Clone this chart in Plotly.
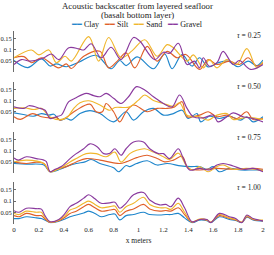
import plotly.graph_objects as go

# ---------------- data ----------------
series_names = ["Clay", "Silt", "Sand", "Gravel"]
colors = ["#1f86cc", "#e0602a", "#f0b62c", "#8a3a9e"]
tau_labels = ["0.25", "0.50", "0.75", "1.00"]

# tau = 0.25
clay_x_1 = [0, 0.11, 0.22, 0.29, 0.34, 0.42, 0.52, 0.66, 0.78, 0.85, 0.9, 0.99, 1.12, 1.21, 1.27, 1.35, 1.43, 1.49, 1.56, 1.64, 1.72, 1.8, 1.88, 1.95, 2.0]
clay_y_1 = [0.053, 0.021, 0.06, 0.028, 0.038, 0.025, 0.045, 0.076, 0.016, 0.053, 0.03, 0.069, 0.016, 0.082, 0.016, 0.079, 0.028, 0.065, 0.024, 0.043, 0.05, 0.025, 0.05, 0.03, 0.055]
silt_x_1 = [0, 0.08, 0.14, 0.22, 0.36, 0.42, 0.46, 0.56, 0.69, 0.76, 0.83, 0.9, 0.97, 1.07, 1.15, 1.23, 1.31, 1.38, 1.49, 1.56, 1.63, 1.73, 1.81, 1.88, 1.95, 2.0]
silt_y_1 = [0.065, 0.07, 0.043, 0.065, 0.02, 0.038, 0.017, 0.072, 0.094, 0.02, 0.05, 0.087, 0.02, 0.116, 0.05, 0.094, 0.065, 0.08, 0.013, 0.057, 0.035, 0.05, 0.035, 0.065, 0.028, 0.043]
sand_x_1 = [0, 0.14, 0.2, 0.28, 0.34, 0.41, 0.46, 0.6, 0.68, 0.76, 0.86, 0.95, 1.05, 1.15, 1.23, 1.28, 1.39, 1.44, 1.52, 1.57, 1.63, 1.71, 1.79, 1.87, 1.95, 2.0]
sand_y_1 = [0.065, 0.1, 0.078, 0.1, 0.043, 0.072, 0.05, 0.16, 0.05, 0.156, 0.065, 0.097, 0.146, 0.072, 0.124, 0.11, 0.05, 0.078, 0.02, 0.057, 0.02, 0.057, 0.035, 0.106, 0.02, 0.047]
gravel_x_1 = [0, 0.06, 0.13, 0.24, 0.3, 0.36, 0.44, 0.52, 0.56, 0.62, 0.7, 0.78, 0.86, 0.96, 1.01, 1.13, 1.2, 1.25, 1.32, 1.39, 1.45, 1.49, 1.52, 1.57, 1.63, 1.68, 1.76, 1.81, 1.9, 2.0]
gravel_y_1 = [0.035, 0.057, 0.05, 0.065, 0.082, 0.057, 0.11, 0.105, 0.1, 0.128, 0.065, 0.112, 0.057, 0.156, 0.14, 0.057, 0.09, 0.085, 0.13, 0.035, 0.05, 0.02, 0.065, 0.027, 0.043, 0.094, 0.035, 0.053, 0.013, 0.035]

# tau = 0.50
clay_x_2 = [0, 0.075, 0.155, 0.22, 0.28, 0.32, 0.37, 0.42, 0.46, 0.53, 0.61, 0.69, 0.8, 0.9, 0.96, 1.04, 1.12, 1.2, 1.28, 1.35, 1.4, 1.47, 1.5, 1.57, 1.65, 1.73, 1.82, 1.87, 1.92, 2.0]
clay_y_2 = [0.045, 0.038, 0.03, 0.042, 0.035, 0.039, 0.013, 0.02, 0.013, 0.042, 0.055, 0.042, 0.005, 0.05, 0.013, 0.05, 0.065, 0.035, 0.042, 0.057, 0.02, 0.042, 0.005, 0.03, 0.02, 0.03, 0.013, 0.028, 0.005, 0.028]
silt_x_2 = [0, 0.05, 0.15, 0.22, 0.29, 0.34, 0.37, 0.42, 0.5, 0.61, 0.66, 0.71, 0.74, 0.8, 0.85, 0.9, 0.96, 1.07, 1.15, 1.23, 1.29, 1.35, 1.39, 1.49, 1.56, 1.63, 1.71, 1.79, 1.87, 1.92, 2.0]
silt_y_2 = [0.028, 0.016, 0.042, 0.028, 0.023, 0.025, 0.013, 0.025, 0.057, 0.084, 0.05, 0.05, 0.087, 0.05, 0.005, 0.05, 0.08, 0.05, 0.065, 0.065, 0.072, 0.095, 0.028, 0.035, 0.05, 0.028, 0.035, 0.02, 0.05, 0.016, 0.02]
sand_x_2 = [0, 0.08, 0.16, 0.22, 0.29, 0.37, 0.43, 0.48, 0.53, 0.6, 0.69, 0.77, 0.81, 0.88, 0.93, 1.0, 1.05, 1.12, 1.2, 1.28, 1.33, 1.39, 1.49, 1.56, 1.63, 1.71, 1.76, 1.87, 2.0]
sand_y_2 = [0.065, 0.068, 0.06, 0.065, 0.027, 0.015, 0.027, 0.065, 0.09, 0.099, 0.08, 0.057, 0.069, 0.069, 0.072, 0.102, 0.125, 0.1, 0.087, 0.075, 0.09, 0.035, 0.028, 0.013, 0.035, 0.042, 0.016, 0.025, 0.016]
gravel_x_2 = [0, 0.08, 0.12, 0.21, 0.25, 0.29, 0.35, 0.38, 0.44, 0.49, 0.58, 0.64, 0.69, 0.74, 0.8, 0.86, 0.92, 0.985, 1.05, 1.12, 1.2, 1.27, 1.33, 1.39, 1.44, 1.52, 1.6, 1.64, 1.71, 1.76, 1.84, 1.92, 2.0]
gravel_y_2 = [0.072, 0.065, 0.077, 0.065, 0.057, 0.02, 0.03, 0.035, 0.095, 0.11, 0.132, 0.122, 0.117, 0.132, 0.11, 0.087, 0.117, 0.162, 0.147, 0.117, 0.087, 0.072, 0.125, 0.065, 0.028, 0.023, 0.035, 0.005, 0.028, 0.045, 0.028, 0.02, 0.005]

# tau = 0.75
clay_x_3 = [0, 0.1, 0.24, 0.29, 0.37, 0.42, 0.5, 0.57, 0.62, 0.69, 0.8, 0.84, 0.9, 0.93, 0.985, 1.07, 1.15, 1.23, 1.34, 1.42, 1.49, 1.55, 1.6, 1.65, 1.73, 1.82, 1.92, 2.0]
clay_y_3 = [0.044, 0.041, 0.037, 0.007, 0.018, 0.03, 0.044, 0.051, 0.062, 0.044, 0.025, 0.007, 0.035, 0.03, 0.044, 0.056, 0.037, 0.044, 0.033, 0.03, 0.03, 0.018, 0.03, 0.007, 0.022, 0.015, 0.015, 0.015]
silt_x_3 = [0, 0.1, 0.18, 0.24, 0.29, 0.34, 0.42, 0.5, 0.58, 0.69, 0.8, 0.85, 0.9, 0.985, 1.07, 1.15, 1.21, 1.28, 1.35, 1.4, 1.49, 1.63, 1.76, 1.92, 2.0]
silt_y_3 = [0.05, 0.044, 0.05, 0.044, 0.007, 0.018, 0.03, 0.051, 0.066, 0.059, 0.047, 0.044, 0.051, 0.07, 0.081, 0.066, 0.051, 0.059, 0.076, 0.022, 0.015, 0.022, 0.018, 0.022, 0.018]
sand_x_3 = [0, 0.1, 0.24, 0.29, 0.37, 0.45, 0.5, 0.58, 0.66, 0.74, 0.81, 0.86, 0.93, 0.985, 1.05, 1.12, 1.2, 1.25, 1.32, 1.39, 1.44, 1.49, 1.56, 1.63, 1.68, 1.76, 1.87, 2.0]
sand_y_3 = [0.05, 0.059, 0.044, 0.007, 0.022, 0.051, 0.066, 0.088, 0.088, 0.074, 0.095, 0.05, 0.088, 0.103, 0.11, 0.095, 0.074, 0.062, 0.09, 0.03, 0.015, 0.03, 0.007, 0.03, 0.037, 0.018, 0.022, 0.012]
gravel_x_3 = [0, 0.035, 0.1, 0.18, 0.24, 0.26, 0.29, 0.33, 0.38, 0.45, 0.5, 0.56, 0.61, 0.67, 0.72, 0.77, 0.81, 0.86, 0.9, 0.96, 1.04, 1.09, 1.16, 1.2, 1.25, 1.32, 1.36, 1.41, 1.49, 1.57, 1.63, 1.68, 1.76, 1.84, 1.92, 2.0]
gravel_y_3 = [0.069, 0.059, 0.074, 0.066, 0.059, 0.052, 0.007, 0.018, 0.03, 0.066, 0.088, 0.11, 0.132, 0.118, 0.088, 0.09, 0.11, 0.081, 0.11, 0.14, 0.14, 0.11, 0.088, 0.088, 0.066, 0.11, 0.066, 0.015, 0.022, 0.015, 0.037, 0.044, 0.033, 0.018, 0.022, 0.007]

# tau = 1.00 (shared sample positions)
x_4 = [0, 0.04, 0.1, 0.18, 0.22, 0.25, 0.29, 0.36, 0.41, 0.45, 0.5, 0.56, 0.6, 0.65, 0.7, 0.77, 0.81, 0.85, 0.9, 0.96, 1.04, 1.09, 1.17, 1.22, 1.26, 1.32, 1.37, 1.43, 1.49, 1.55, 1.58, 1.65, 1.73, 1.78, 1.83, 1.87, 1.92, 2.0]
clay_y_4 = [0.022, 0.022, 0.03, 0.025, 0.022, 0.015, 0.004, 0.01, 0.02, 0.03, 0.038, 0.047, 0.055, 0.045, 0.03, 0.04, 0.042, 0.016, 0.035, 0.04, 0.05, 0.04, 0.038, 0.04, 0.04, 0.045, 0.025, 0.004, 0.015, 0.012, 0.004, 0.03, 0.018, 0.014, 0.004, 0.028, 0.016, 0.01]
silt_y_4 = [0.035, 0.03, 0.045, 0.035, 0.035, 0.02, 0.005, 0.012, 0.028, 0.045, 0.055, 0.075, 0.085, 0.07, 0.055, 0.06, 0.062, 0.035, 0.055, 0.065, 0.085, 0.065, 0.055, 0.058, 0.055, 0.07, 0.04, 0.006, 0.018, 0.015, 0.005, 0.035, 0.022, 0.016, 0.005, 0.03, 0.018, 0.012]
sand_y_4 = [0.045, 0.04, 0.055, 0.05, 0.05, 0.025, 0.006, 0.015, 0.035, 0.06, 0.07, 0.09, 0.1, 0.085, 0.07, 0.075, 0.078, 0.05, 0.075, 0.09, 0.117, 0.085, 0.07, 0.07, 0.063, 0.09, 0.05, 0.007, 0.02, 0.016, 0.006, 0.04, 0.025, 0.018, 0.006, 0.035, 0.02, 0.015]
gravel_y_4 = [0.057, 0.05, 0.068, 0.066, 0.064, 0.034, 0.008, 0.018, 0.045, 0.075, 0.09, 0.113, 0.128, 0.11, 0.09, 0.092, 0.095, 0.068, 0.09, 0.128, 0.138, 0.105, 0.083, 0.085, 0.075, 0.113, 0.07, 0.008, 0.018, 0.018, 0.004, 0.045, 0.03, 0.022, 0.004, 0.038, 0.022, 0.012]

y_tick_vals = [0.05, 0.1, 0.15]
y_tick_text = ["0.05", "0.1", "0.15"]
x_tick_vals = [0, 0.2, 0.4, 0.6, 0.8, 1, 1.2, 1.4, 1.6, 1.8, 2]
x_tick_text = ["0", "0.2", "0.4", "0.6", "0.8", "1", "1.2", "1.4", "1.6", "1.8", "2"]

panels = [
    [(clay_x_1, clay_y_1), (silt_x_1, silt_y_1), (sand_x_1, sand_y_1), (gravel_x_1, gravel_y_1)],
    [(clay_x_2, clay_y_2), (silt_x_2, silt_y_2), (sand_x_2, sand_y_2), (gravel_x_2, gravel_y_2)],
    [(clay_x_3, clay_y_3), (silt_x_3, silt_y_3), (sand_x_3, sand_y_3), (gravel_x_3, gravel_y_3)],
    [(x_4, clay_y_4), (x_4, silt_y_4), (x_4, sand_y_4), (x_4, gravel_y_4)],
]

# ---------------- layout ----------------
W, H = 274, 255
FONT = "Liberation Serif"
TXT = "#222222"
x_dom = [14 / W, 263 / W]
# panel (top, bottom) in pixels
panel_px = [(31, 72.3), (81.5, 123), (132, 173.3), (182, 223.5)]

fig = go.Figure()
layout = dict(
    width=W, height=H,
    margin=dict(l=0, r=0, t=0, b=0, autoexpand=False),
    paper_bgcolor="white", plot_bgcolor="white",
    showlegend=False,
    font=dict(family=FONT, color=TXT, size=7),
)

for i, (series, tau) in enumerate(zip(panels, tau_labels)):
    k = i + 1
    xa = "x" if k == 1 else f"x{k}"
    ya = "y" if k == 1 else f"y{k}"
    for (xs, ys), name, col in zip(series, series_names, colors):
        fig.add_trace(go.Scatter(
            x=xs, y=ys, name=name, mode="lines",
            line=dict(color=col, width=1.15, shape="spline", smoothing=1.0),
            xaxis=xa, yaxis=ya, showlegend=(k == 1), hoverinfo="skip",
        ))
    top, bot = panel_px[i]
    xkey = "xaxis" if k == 1 else f"xaxis{k}"
    ykey = "yaxis" if k == 1 else f"yaxis{k}"
    last = (k == 4)
    layout[xkey] = dict(
        domain=x_dom, range=[0, 2], anchor=ya,
        showline=False, showgrid=False, zeroline=False,
        showticklabels=last, tickvals=x_tick_vals, ticktext=x_tick_text,
        ticks="", tickfont=dict(size=7, family=FONT, color=TXT),
        title=dict(text="x meters", standoff=5, font=dict(size=7.5, family=FONT, color=TXT)) if last else None,
    )
    layout[ykey] = dict(
        domain=[1 - bot / H, 1 - top / H], range=[0, 0.185], anchor=xa,
        showline=True, linecolor="#6a6a6a", linewidth=0.7,
        showgrid=False, zeroline=False,
        tickvals=y_tick_vals, ticktext=y_tick_text,
        ticks="inside", ticklen=2, tickcolor="#6a6a6a", tickwidth=0.6,
        tickfont=dict(size=6.5, family=FONT, color=TXT),
    )

annotations = [
    dict(text="Acoustic backscatter from layered seafloor", x=0.5, y=1 - 6 / H,
         xref="paper", yref="paper", showarrow=False, xanchor="center", yanchor="middle",
         font=dict(size=8.8, family=FONT, color=TXT)),
    dict(text="(basalt bottom layer)", x=0.5, y=1 - 15 / H,
         xref="paper", yref="paper", showarrow=False, xanchor="center", yanchor="middle",
         font=dict(size=8.8, family=FONT, color=TXT)),
]
legend_html = "   ".join(
    f"<span style='color:{c}'>━━</span> {n}" for n, c in zip(series_names, colors)
)
annotations.append(dict(text=legend_html, x=0.5, y=1 - 24 / H, xref="paper", yref="paper",
                        showarrow=False, xanchor="center", yanchor="middle",
                        font=dict(size=8, family=FONT, color=TXT)))
for i, tau in enumerate(tau_labels):
    top, bot = panel_px[i]
    annotations.append(dict(
        text=f"<i>τ</i> = {tau}", x=263 / W, y=1 - (top + 5) / H,
        xref="paper", yref="paper", showarrow=False, xanchor="right", yanchor="middle",
        font=dict(size=7.5, family=FONT, color=TXT),
    ))
layout["annotations"] = annotations

fig.update_layout(**layout)
fig.write_html("out.html", config={"displayModeBar": False},
               post_script="document.body.style.margin='0';")
